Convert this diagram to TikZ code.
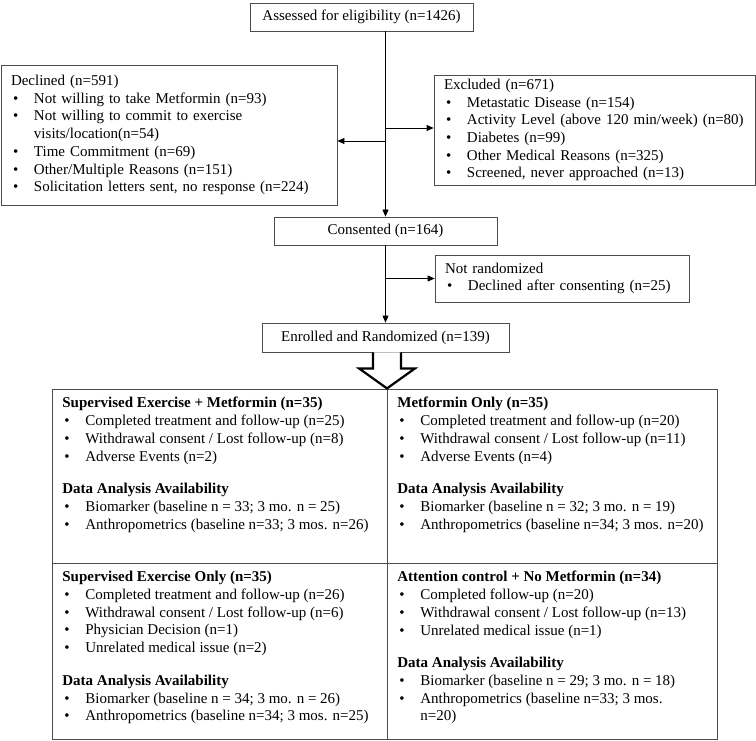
\documentclass[tikz,border=0pt]{standalone}
\usepackage{fontspec}
\setmainfont{Liberation Serif}
\usetikzlibrary{arrows.meta}

\tikzset{
  box/.style={draw=black!70, line width=0.8pt, align=left, inner xsep=10pt, inner ysep=4pt,
    font=\fontsize{15}{17.7}\selectfont},
  cbox/.style={box, align=center},
  cell/.style={draw=black!70, line width=0.8pt, inner xsep=10pt, inner ysep=8pt, anchor=north west,
    font=\fontsize{15}{17.7}\selectfont},
  arr/.style={-{Triangle[length=7pt,width=6pt]}, line width=0.8pt},
  hollow/.style={line width=2.2pt, line join=miter, fill=white}
}
\newcommand{\bul}{\makebox[23pt][l]{\hspace{2pt}\textbullet}}

\begin{document}
\begin{tikzpicture}[x=1pt, y=-1pt]
  \useasboundingbox (0,0) rectangle (756,741);

  % screening
  \node[cbox, minimum width=223pt, minimum height=28pt] (assess) at (361.5,17) {Assessed for eligibility (n=1426)};
  \node[box, minimum width=336pt, minimum height=140pt, text width=316pt] (decl) at (169,135) {Declined (n=591)\\
    \bul Not willing to take Metformin (n=93)\\
    \bul Not willing to commit to exercise\\
    \hspace*{23pt}visits/location(n=54)\\
    \bul Time Commitment (n=69)\\
    \bul Other/Multiple Reasons (n=151)\\
    \bul Solicitation letters sent, no response (n=224)};
  \node[box, minimum width=321pt, minimum height=90pt, text width=301pt] (excl) at (594.5,130) {Excluded (n=671)\\
    \bul Metastatic Disease (n=154)\\
    \bul Activity Level (above 120 min/week) (n=80)\\
    \bul Diabetes (n=99)\\
    \bul Other Medical Reasons (n=325)\\
    \bul Screened, never approached (n=13)};

  % consent and randomisation
  \node[cbox, minimum width=223pt, minimum height=28pt] (consent) at (385.5,231) {Consented (n=164)};
  \node[box, minimum width=254pt, minimum height=47pt, text width=234pt] (notrand) at (562,278.5) {Not randomized\\
    \bul Declined after consenting (n=25)};
  \node[cbox, minimum width=247pt, minimum height=29pt] (enroll) at (385.5,337.5) {Enrolled and Randomized (n=139)};

  % connectors
  \coordinate (jdecl) at (385.5,141);
  \coordinate (jexcl) at (385.5,128);
  \draw[arr] (assess.south -| consent.north) -- (consent.north);
  \draw[arr] (jdecl) -- (jdecl -| decl.east);
  \draw[arr] (jexcl) -- (jexcl -| excl.west);
  \draw[arr] (consent.south) -- (enroll.north);
  \draw[arr] (consent.south |- notrand.west) -- (notrand.west);

  % four arms
  \node[cell] (semet) at (52,389) {\parbox[t][158pt][t]{315pt}{%
    \textbf{Supervised Exercise + Metformin (n=35)}\\
    \bul Completed treatment and follow-up (n=25)\\
    \bul Withdrawal consent / Lost follow-up (n=8)\\
    \bul Adverse Events (n=2)\\[15pt]
    \textbf{Data Analysis Availability}\\
    \bul Biomarker (baseline n = 33; 3 mo. n = 25)\\
    \bul Anthropometrics (baseline n=33; 3 mos. n=26)}};
  \node[cell] (metonly) at (387,389) {\parbox[t][158pt][t]{310pt}{%
    \textbf{Metformin Only (n=35)}\\
    \bul Completed treatment and follow-up (n=20)\\
    \bul Withdrawal consent / Lost follow-up (n=11)\\
    \bul Adverse Events (n=4)\\[15pt]
    \textbf{Data Analysis Availability}\\
    \bul Biomarker (baseline n = 32; 3 mo. n = 19)\\
    \bul Anthropometrics (baseline n=34; 3 mos. n=20)}};
  \node[cell] (seonly) at (52,563) {\parbox[t][160pt][t]{315pt}{%
    \textbf{Supervised Exercise Only (n=35)}\\
    \bul Completed treatment and follow-up (n=26)\\
    \bul Withdrawal consent / Lost follow-up (n=6)\\
    \bul Physician Decision (n=1)\\
    \bul Unrelated medical issue (n=2)\\[15pt]
    \textbf{Data Analysis Availability}\\
    \bul Biomarker (baseline n = 34; 3 mo. n = 26)\\
    \bul Anthropometrics (baseline n=34; 3 mos. n=25)}};
  \node[cell] (attn) at (387,563) {\parbox[t][160pt][t]{310pt}{%
    \textbf{Attention control + No Metformin (n=34)}\\
    \bul Completed follow-up (n=20)\\
    \bul Withdrawal consent / Lost follow-up (n=13)\\
    \bul Unrelated medical issue (n=1)\\[15pt]
    \textbf{Data Analysis Availability}\\
    \bul Biomarker (baseline n = 29; 3 mo. n = 18)\\
    \bul Anthropometrics (baseline n=33; 3 mos.\\
    \hspace*{23pt}n=20)}};

  % hollow arrow into the arms
  \coordinate (hs) at ([xshift=1.5pt]enroll.south);
  \draw[hollow] (hs) ++(-14,0) -- ++(0,16) -- ++(-14,0) -- ++(28,20) -- ++(28,-20) -- ++(-14,0) -- ++(0,-16);
\end{tikzpicture}
\end{document}
